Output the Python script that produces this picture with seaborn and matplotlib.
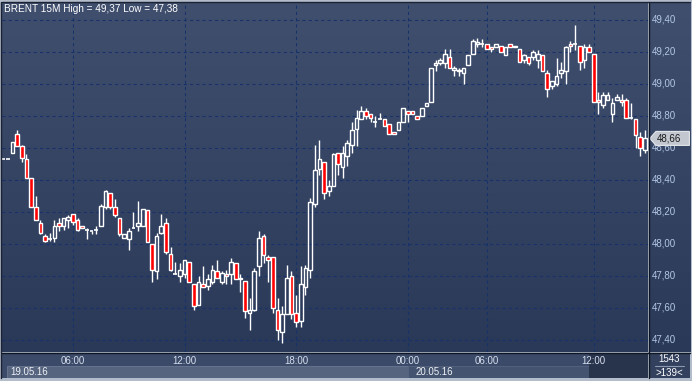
import numpy as np
import pandas as pd
import matplotlib
matplotlib.use("Agg")
import matplotlib.pyplot as plt
import seaborn as sns
from matplotlib.patches import Rectangle, Polygon
from matplotlib.lines import Line2D
from matplotlib.colors import LinearSegmentedColormap
import matplotlib.transforms as mtransforms

# ---------------- data (BRENT 15M candles) ----------------
opens = [48.53, 48.53, 48.57, 48.69, 48.61, 48.53, 48.41, 48.23, 48.13, 48.05,
         48.03, 48.04, 48.13, 48.11, 48.15, 48.19, 48.15, 48.11, 48.09, 48.08,
         48.09, 48.11, 48.23, 48.32, 48.23, 48.16, 48.04, 48.03, 48.10, 48.11,
         48.11, 48.21, 48.00, 47.83, 48.07, 48.13, 47.94, 47.81, 47.80, 47.81,
         47.89, 47.75, 47.62, 47.75, 47.74, 47.76, 47.83, 47.76, 47.81, 47.81,
         47.88, 47.79, 47.77, 47.57, 47.59, 47.86, 48.05, 47.92, 47.92, 47.59,
         47.45, 47.56, 47.80, 47.57, 47.52, 47.73, 47.84, 48.25, 48.47, 48.51,
         48.33, 48.36, 48.57, 48.48, 48.55, 48.62, 48.72, 48.78, 48.83, 48.81,
         48.76, 48.78, 48.78, 48.75, 48.70, 48.71, 48.76, 48.83, 48.83, 48.80,
         48.80, 48.86, 48.89, 49.12, 49.13, 49.13, 49.17, 49.09, 49.09, 49.07,
         49.12, 49.19, 49.25, 49.25, 49.25, 49.23, 49.23, 49.24, 49.18, 49.25,
         49.23, 49.22, 49.15, 49.17, 49.17, 49.15, 49.18, 49.07, 48.99, 49.00,
         49.07, 49.08, 49.25, 49.25, 49.24, 49.15, 49.23, 49.19, 48.90, 48.87,
         48.90, 48.81, 48.90, 48.90, 48.90, 48.79, 48.78, 48.67, 48.59]
highs = [48.53, 48.53, 48.64, 48.71, 48.62, 48.56, 48.41, 48.30, 48.15, 48.06,
         48.07, 48.15, 48.16, 48.16, 48.18, 48.19, 48.16, 48.11, 48.10, 48.08,
         48.11, 48.25, 48.34, 48.32, 48.28, 48.16, 48.06, 48.10, 48.20, 48.27,
         48.22, 48.21, 48.00, 48.07, 48.19, 48.16, 47.98, 47.89, 47.88, 47.90,
         47.89, 47.75, 47.80, 47.86, 47.81, 47.87, 47.90, 47.83, 47.84, 47.91,
         47.88, 47.81, 47.77, 47.66, 47.85, 48.08, 48.06, 47.93, 47.92, 47.66,
         47.61, 47.87, 47.83, 47.68, 47.86, 47.87, 48.29, 48.62, 48.65, 48.51,
         48.40, 48.57, 48.57, 48.61, 48.65, 48.76, 48.84, 48.86, 48.85, 48.81,
         48.80, 48.82, 48.78, 48.75, 48.70, 48.76, 48.85, 48.83, 48.83, 48.80,
         48.85, 48.88, 49.10, 49.15, 49.16, 49.22, 49.22, 49.11, 49.10, 49.10,
         49.18, 49.28, 49.29, 49.28, 49.25, 49.23, 49.25, 49.24, 49.23, 49.25,
         49.24, 49.22, 49.19, 49.17, 49.21, 49.21, 49.18, 49.09, 49.02, 49.16,
         49.14, 49.24, 49.27, 49.37, 49.24, 49.25, 49.25, 49.19, 48.95, 48.95,
         48.95, 48.91, 48.94, 48.94, 48.91, 48.88, 48.78, 48.70, 48.71]
lows = [48.53, 48.53, 48.57, 48.61, 48.51, 48.41, 48.23, 48.15, 48.06, 48.01,
        48.02, 48.01, 48.08, 48.09, 48.10, 48.12, 48.08, 48.10, 48.03, 48.06,
        48.06, 48.11, 48.22, 48.22, 48.17, 48.05, 48.04, 47.96, 48.10, 48.08,
        48.11, 48.01, 47.76, 47.78, 48.06, 47.94, 47.83, 47.81, 47.76, 47.79,
        47.76, 47.59, 47.62, 47.73, 47.71, 47.75, 47.79, 47.75, 47.75, 47.75,
        47.78, 47.70, 47.54, 47.46, 47.58, 47.80, 47.88, 47.76, 47.57, 47.40,
        47.38, 47.56, 47.53, 47.48, 47.48, 47.68, 47.79, 48.23, 48.43, 48.28,
        48.30, 48.36, 48.43, 48.41, 48.49, 48.57, 48.61, 48.78, 48.78, 48.76,
        48.73, 48.78, 48.74, 48.69, 48.69, 48.71, 48.76, 48.76, 48.81, 48.78,
        48.80, 48.86, 48.89, 49.08, 49.12, 49.10, 49.10, 49.05, 49.05, 49.00,
        49.12, 49.19, 49.23, 49.23, 49.22, 49.20, 49.23, 49.20, 49.18, 49.23,
        49.23, 49.14, 49.13, 49.12, 49.15, 49.10, 49.08, 48.92, 48.97, 48.99,
        49.04, 49.00, 49.20, 49.21, 49.09, 49.10, 49.20, 48.89, 48.81, 48.85,
        48.90, 48.76, 48.90, 48.86, 48.79, 48.78, 48.60, 48.55, 48.57]
closes = [48.53, 48.53, 48.64, 48.61, 48.54, 48.41, 48.23, 48.15, 48.07, 48.02,
          48.03, 48.11, 48.11, 48.16, 48.17, 48.14, 48.09, 48.10, 48.09, 48.08,
          48.09, 48.24, 48.33, 48.23, 48.18, 48.06, 48.06, 48.08, 48.10, 48.13,
          48.22, 48.01, 47.84, 48.05, 48.11, 47.95, 47.84, 47.81, 47.84, 47.90,
          47.76, 47.61, 47.76, 47.73, 47.78, 47.84, 47.79, 47.82, 47.80, 47.89,
          47.78, 47.78, 47.58, 47.59, 47.83, 48.04, 47.93, 47.90, 47.60, 47.46,
          47.56, 47.79, 47.56, 47.51, 47.75, 47.85, 48.26, 48.46, 48.53, 48.32,
          48.36, 48.56, 48.50, 48.57, 48.63, 48.71, 48.79, 48.83, 48.80, 48.79,
          48.76, 48.78, 48.74, 48.69, 48.69, 48.76, 48.85, 48.81, 48.81, 48.78,
          48.85, 48.88, 49.10, 49.13, 49.15, 49.19, 49.10, 49.10, 49.08, 49.10,
          49.18, 49.27, 49.26, 49.25, 49.22, 49.22, 49.25, 49.20, 49.23, 49.23,
          49.24, 49.14, 49.18, 49.13, 49.20, 49.19, 49.08, 48.97, 49.02, 49.05,
          49.09, 49.23, 49.24, 49.25, 49.14, 49.23, 49.20, 48.89, 48.89, 48.93,
          48.93, 48.88, 48.92, 48.89, 48.79, 48.79, 48.68, 48.60, 48.66]

price_ticks = [47.40, 47.60, 47.80, 48.00, 48.20, 48.40, 48.60, 48.80, 49.00, 49.20, 49.40]
time_tick_bars = [15, 39, 63, 87, 104, 127]
time_tick_labels = ["06:00", "12:00", "18:00", "00:00", "06:00", "12:00"]
date_labels = ["19.05.16", "20.05.16"]
date_start_bars = [0, 87]
title_text = "BRENT 15M High = 49,37 Low = 47,38"
last_price = 48.66
bars_total_label = "1543"
bars_visible_label = ">139<"

df = pd.DataFrame({"open": opens, "high": highs, "low": lows, "close": closes})
df["x"] = np.arange(len(df))

# ---------------- style ----------------
sns.set_style("dark")
plt.rcParams['font.family'] = ['Liberation Sans', 'DejaVu Sans']

W, H = 692, 381
fig = plt.figure(figsize=(W / 100, H / 100), dpi=100, facecolor='#b3bccb')

def px_axes(x0, y0, x1, y1, **kw):
    return fig.add_axes([x0 / W, 1 - y1 / H, (x1 - x0) / W, (y1 - y0) / H], **kw)

grad = LinearSegmentedColormap.from_list("bg", ["#2a3958", "#404f6e"])
gradient = np.linspace(0, 1, 256).reshape(-1, 1)

# main chart
ax = px_axes(2, 2, 648, 352)
XL = (-0.26, 138.67)
YL = (47.325, 49.5125)
ax.imshow(gradient, extent=(XL[0], XL[1], YL[0], YL[1]), origin='lower',
          aspect='auto', cmap=grad, zorder=0)
ax.set_xlim(*XL)
ax.set_ylim(*YL)
ax.set_yticks(price_ticks)
ax.set_xticks(time_tick_bars)
ax.tick_params(length=0, labelleft=False, labelbottom=False)
for y in price_ticks:
    ax.axhline(y, color='#15336a', lw=0.75, ls=(0, (3, 3)), zorder=0.5)
for xb in time_tick_bars:
    ax.axvline(xb, color='#15336a', lw=0.75, ls=(0, (3, 3)), zorder=0.5)
ax.grid(False)
for s in ax.spines.values():
    s.set_visible(False)

body_w = 0.78
top = df[["open", "close"]].max(axis=1)
bot = df[["open", "close"]].min(axis=1)
ax.vlines(df["x"], top, df["high"], color='white', lw=1.0, zorder=2)
ax.vlines(df["x"], df["low"], bot, color='white', lw=1.0, zorder=2)
up = df["close"] > df["open"]
dn = df["close"] < df["open"]
eq = df["close"] == df["open"]
ax.bar(df["x"][up], (df["close"] - df["open"])[up], bottom=df["open"][up],
       width=body_w, facecolor='none', edgecolor='white', lw=1.0, zorder=3)
ax.bar(df["x"][dn], (df["open"] - df["close"])[dn], bottom=df["close"][dn],
       width=body_w, facecolor='#ff0000', edgecolor='white', lw=1.0, zorder=3)
ax.hlines(df["close"][eq], df["x"][eq] - body_w / 2, df["x"][eq] + body_w / 2,
          color='white', lw=1.2, zorder=3)

fig.text(4 / W, 1 - 9.5 / H, title_text, color='white', fontsize=7.2,
         va='center', ha='left')

# right price axis panel
axr = px_axes(649, 2, 690, 352, sharey=ax)
axr.imshow(gradient, extent=(0, 1, YL[0], YL[1]), origin='lower',
           aspect='auto', cmap=grad, zorder=0)
axr.set_xlim(0, 1)
axr.set_ylim(*YL)
axr.set_xticks([])
axr.tick_params(length=0, labelleft=False, labelbottom=False)
axr.grid(False)
for s in axr.spines.values():
    s.set_visible(False)
tr = mtransforms.blended_transform_factory(axr.transAxes, axr.transData)
for y in price_ticks:
    axr.text(0.075, y, f"{y:.2f}".replace(".", ","), transform=tr, color='#b2c6e6',
             fontsize=7, va='center', ha='left', zorder=2)
dh = 7 / 160
tag = Polygon([(0.02, last_price), (0.17, last_price + dh), (0.985, last_price + dh),
               (0.985, last_price - dh), (0.17, last_price - dh)], closed=True,
              transform=tr, facecolor='#c3c7cf', edgecolor='#e4e6ea', lw=0.8, zorder=3)
axr.add_patch(tag)
axr.text(0.2, last_price, f"{last_price:.2f}".replace(".", ","), transform=tr,
         color='#1a1a1a', fontsize=7, va='center', ha='left', zorder=4)

# bottom time axis panel
axb = px_axes(2, 353, 648, 378)
axb.set_facecolor('#3b4a68')
axb.set_xlim(*XL)
axb.set_ylim(0, 1)
axb.set_xticks([])
axb.set_yticks([])
axb.grid(False)
for s in axb.spines.values():
    s.set_visible(False)
axb.add_patch(Rectangle((0.82, 0.0), 87 - 0.82, 0.48, facecolor='#56647f',
                        edgecolor='#6b7893', lw=0.6, zorder=1))
axb.add_patch(Rectangle((87, 0.0), 126 - 87, 0.48, facecolor='#44536f',
                        edgecolor='#56647f', lw=0.6, zorder=1))
axb.add_patch(Rectangle((126, 0.0), XL[1] - 126, 1.0, facecolor='#28334c',
                        edgecolor='none', zorder=1.5))
for xb, lab in zip(time_tick_bars, time_tick_labels):
    axb.text(xb, 0.7, lab, color='#d6deec', fontsize=7, ha='center', va='center', zorder=2)
for xb, lab in zip(date_start_bars, date_labels):
    axb.text(xb + 1.6, 0.23, lab, color='#eef1f6', fontsize=7, ha='left', va='center', zorder=2)

# bottom-right info panel
axi = px_axes(649, 353, 690, 378)
axi.set_facecolor('#33415e')
axi.set_xlim(0, 1)
axi.set_ylim(0, 1)
axi.set_xticks([])
axi.set_yticks([])
axi.grid(False)
for s in axi.spines.values():
    s.set_visible(False)
axi.text(0.5, 0.74, bars_total_label, color='white', fontsize=7, ha='center', va='center')
axi.plot([0.15, 0.85], [0.48, 0.48], color='#8c99b0', lw=0.8)
axi.text(0.5, 0.22, bars_visible_label, color='white', fontsize=7, ha='center', va='center')

# separator lines
sep = '#0e1523'
fig.add_artist(Line2D([648.5 / W, 648.5 / W], [1 - 2 / H, 1 - 378 / H], color=sep, lw=1))
fig.add_artist(Line2D([2 / W, 690 / W], [1 - 352.5 / H, 1 - 352.5 / H], color=sep, lw=1))
fig.add_artist(Line2D([1.5 / W, 1.5 / W], [1 - 2 / H, 1 - 378 / H], color='#1a2233', lw=1))
fig.add_artist(Line2D([2 / W, 690 / W], [1 - 1.5 / H, 1 - 1.5 / H], color='#1a2233', lw=1))

fig.savefig("out.png", dpi=100, facecolor=fig.get_facecolor())
